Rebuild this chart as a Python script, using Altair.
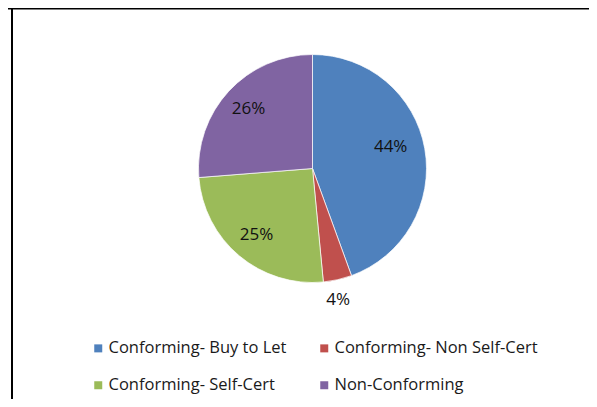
import altair as alt
import pandas as pd

categories = [
    "Conforming- Buy to Let",
    "Conforming- Non Self-Cert",
    "Conforming- Self-Cert",
    "Non-Conforming",
]
shares = [44, 4, 25, 26]
labels = ["44%", "4%", "25%", "26%"]
colors = ["#4F81BD", "#C0504D", "#9BBB59", "#8064A2"]

df = pd.DataFrame({
    "category": categories,
    "share": shares,
    "label": labels,
    "order": list(range(len(categories))),
})

CX, CY = 304.5, 160.5
W, H = 581, 391

base = alt.Chart(df).encode(
    theta=alt.Theta("share:Q", stack=True),
    order=alt.Order("order:Q", sort="ascending"),
    x=alt.value(CX),
    y=alt.value(CY),
)

pie = base.mark_arc(radius=114, stroke="#ffffff", strokeWidth=0.7).encode(
    color=alt.Color(
        "category:N",
        scale=alt.Scale(domain=categories, range=colors),
        legend=alt.Legend(
            title=None,
            orient="none",
            direction="horizontal",
            legendX=82,
            legendY=332,
            columns=2,
            symbolType="square",
            symbolSize=64,
            symbolStrokeWidth=0,
            labelFont="Open Sans",
            labelFontSize=16.5,
            labelColor="#1a1a1a",
            labelOffset=2,
            columnPadding=29,
            rowPadding=20,
            padding=0,
            labelLimit=400,
        ),
    )
)

text_style = dict(font="Open Sans", fontSize=17, color="#111111",
                  align="center", baseline="middle")


def label_layer(cond, **mark):
    return base.transform_calculate(
        txt=f"({cond}) ? datum.label : ''"
    ).mark_text(**text_style, **mark).encode(text="txt:N")


big = label_layer("datum.share >= 40", radius=81, thetaOffset=-0.09)
mid = label_layer("datum.share >= 10 && datum.share < 40", radius=87)
small = label_layer("datum.share < 10", radius=134, thetaOffset=0.03)

frame = alt.Data(values=[{}])
top_line = alt.Chart(frame).mark_rule(color="black", strokeWidth=2).encode(
    x=alt.value(0), x2=alt.value(W), y=alt.value(0.5)
)
left_line = alt.Chart(frame).mark_rule(color="black", strokeWidth=2).encode(
    x=alt.value(4), y=alt.value(0), y2=alt.value(H)
)

chart = alt.layer(pie, big, mid, small, top_line, left_line).properties(
    width=W, height=H, padding=0, autosize=alt.AutoSizeParams(type="none"),
    background="white",
).configure_view(stroke=None)

chart.save("out.html", embed_options={"renderer": "svg", "actions": False})
